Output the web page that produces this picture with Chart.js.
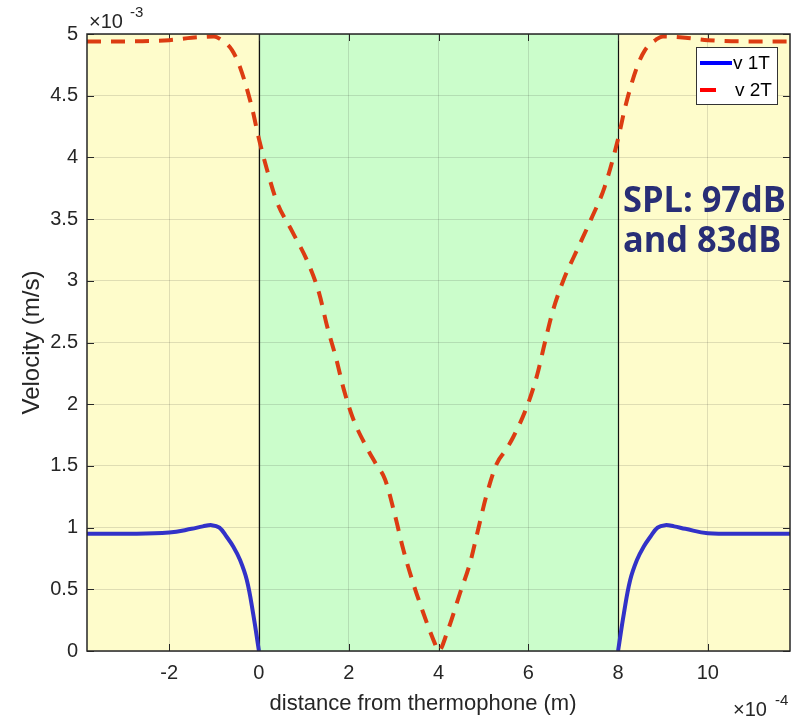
<!DOCTYPE html>
<html>
<head>
<meta charset="utf-8">
<script src="https://cdn.jsdelivr.net/npm/chart.js@4/dist/chart.umd.min.js"></script>
<style>
  body { margin: 0; background: #fff; }
  #wrap { width: 804px; height: 718px; }
</style>
</head>
<body>
<div id="wrap"><canvas id="c" width="804" height="718"></canvas></div>
<script>
// values in units of 1e-4 m (x) and 1e-3 m/s (y)
const redX = [-3.83, -3, -2, -1.5, -1, -0.87, -0.6, -0.42, -0.16, 0, 0.18, 0.4, 0.74, 1.09, 1.34, 1.52, 1.72, 1.89, 2.1, 2.4, 2.6, 2.81, 3.03, 3.21, 3.41, 3.65, 3.92, 4.0,
  4.21, 4.48, 4.7, 4.88, 5.06, 5.3, 5.5, 5.66, 5.97, 6.2, 6.37, 6.55, 6.8, 7.1, 7.4, 7.7, 8.0, 8.16, 8.42, 8.6, 8.87, 9.0, 9.5, 10, 11, 11.83];
const redY = [4.94, 4.94, 4.95, 4.97, 4.98, 4.96, 4.87, 4.73, 4.41, 4.15, 3.90, 3.64, 3.40, 3.15, 2.90, 2.63, 2.37, 2.12, 1.88, 1.65, 1.52, 1.39, 1.10, 0.83, 0.58, 0.32, 0.06, 0,
  0.17, 0.47, 0.71, 0.98, 1.25, 1.52, 1.63, 1.73, 1.98, 2.24, 2.50, 2.76, 3.02, 3.26, 3.50, 3.76, 4.15, 4.41, 4.73, 4.87, 4.96, 4.98, 4.97, 4.95, 4.94, 4.94];

const blueX = [-3.83, -3, -2, -1.5, -1.25, -1.05, -0.88, -0.72, -0.57, -0.42, -0.27, -0.13, 0, 4,
  8, 8.13, 8.27, 8.42, 8.57, 8.72, 8.88, 9.05, 9.25, 9.5, 10, 11, 11.83];
const blueY = [0.95, 0.95, 0.96, 0.99, 1.01, 1.02, 1.0, 0.926, 0.845, 0.737, 0.575, 0.305, 0, null,
  0, 0.305, 0.575, 0.737, 0.845, 0.926, 1.0, 1.02, 1.01, 0.99, 0.955, 0.95, 0.95];

const xTicks = [-2, 0, 2, 4, 6, 8, 10];
const yTicks = [0, 0.5, 1, 1.5, 2, 2.5, 3, 3.5, 4, 4.5, 5];
const seriesNames = ['v 1T', 'v 2T'];
const legendColors = ['#0000ff', '#ff0000'];
const xRange = [-3.83, 11.83];
const greenZone = [0, 8];
const note = ['SPL: 97dB', 'and 83dB'];
const xTitle = 'distance from thermophone (m)';

const axisColor = '#262626';
const FAMILY = 'Liberation Sans, Arial, sans-serif';
const tickFont = { family: FAMILY, size: 20 };

const toPts = (xs, ys) => xs.map((x, i) => ({ x: x, y: ys[i] }));

const decor = {
  id: 'decor',
  beforeDraw(chart) {
    const { ctx, chartArea: a, scales: { x } } = chart;
    ctx.save();
    ctx.fillStyle = '#fefccb';
    ctx.fillRect(a.left, a.top, a.right - a.left, a.bottom - a.top);
    const g0 = x.getPixelForValue(greenZone[0]);
    const g1 = x.getPixelForValue(greenZone[1]);
    ctx.fillStyle = '#cbfdcb';
    ctx.fillRect(g0, a.top, g1 - g0, a.bottom - a.top);
    ctx.restore();
  },
  beforeDatasetsDraw(chart) {
    const { ctx, chartArea: a, scales: { x, y } } = chart;
    ctx.save();
    ctx.strokeStyle = '#111';
    ctx.lineWidth = 1.2;
    greenZone.forEach(v => {
      const px = Math.round(x.getPixelForValue(v)) + 0.5;
      ctx.beginPath();
      ctx.moveTo(px, a.top);
      ctx.lineTo(px, a.bottom);
      ctx.stroke();
    });
    // inward tick marks, all four sides
    ctx.strokeStyle = axisColor;
    ctx.lineWidth = 1;
    ctx.beginPath();
    xTicks.forEach(v => {
      const px = Math.round(x.getPixelForValue(v)) + 0.5;
      ctx.moveTo(px, a.bottom); ctx.lineTo(px, a.bottom - 7);
      ctx.moveTo(px, a.top); ctx.lineTo(px, a.top + 7);
    });
    yTicks.forEach(v => {
      const py = Math.round(y.getPixelForValue(v)) + 0.5;
      ctx.moveTo(a.left, py); ctx.lineTo(a.left + 7, py);
      ctx.moveTo(a.right, py); ctx.lineTo(a.right - 7, py);
    });
    ctx.stroke();
    ctx.restore();
  },
  afterDraw(chart) {
    const { ctx, chartArea: a } = chart;
    ctx.save();
    // axes box
    ctx.strokeStyle = axisColor;
    ctx.lineWidth = 1.5;
    ctx.strokeRect(a.left, a.top, a.right - a.left, a.bottom - a.top);

    // x axis title
    ctx.fillStyle = axisColor;
    ctx.textAlign = 'center';
    ctx.textBaseline = 'alphabetic';
    ctx.font = '22px ' + FAMILY;
    ctx.fillText(xTitle, 423, 710);

    // exponent labels
    ctx.textAlign = 'left';
    ctx.font = '20px ' + FAMILY;
    ctx.fillText('\u00d710', 89, 28);
    ctx.font = '15px ' + FAMILY;
    ctx.fillText('-3', 130, 17);
    ctx.font = '20px ' + FAMILY;
    ctx.fillText('\u00d710', 733, 716);
    ctx.font = '15px ' + FAMILY;
    ctx.fillText('-4', 775, 705);

    // legend
    const lx = 696, ly = 47, lw = 81, lh = 57;
    ctx.fillStyle = '#fff';
    ctx.fillRect(lx, ly, lw, lh);
    ctx.strokeStyle = '#333';
    ctx.lineWidth = 1;
    ctx.strokeRect(lx + 0.5, ly + 0.5, lw, lh);
    ctx.font = '19px ' + FAMILY;
    ctx.textBaseline = 'middle';
    ctx.lineWidth = 4;
    seriesNames.forEach((name, i) => {
      const cy = ly + 16 + i * 27;
      ctx.strokeStyle = legendColors[i];
      ctx.beginPath();
      ctx.moveTo(lx + 4, cy);
      ctx.lineTo(i === 0 ? lx + 36 : lx + 20, cy);
      ctx.stroke();
      ctx.fillStyle = '#000';
      ctx.fillText(name, i === 0 ? lx + 37 : lx + 39, cy + 1);
    });

    // SPL annotation, fitted to the reference box
    ctx.fillStyle = '#282e76';
    ctx.textBaseline = 'alphabetic';
    let size = 30;
    const fam = '"Open Sans", sans-serif';
    ctx.font = 'bold ' + size + 'px ' + fam;
    size = size * 163 / ctx.measureText(note[0]).width;
    ctx.font = 'bold ' + size.toFixed(1) + 'px ' + fam;
    const sy = 26 / (0.714 * size);
    [212, 252].forEach((base, i) => {
      ctx.save();
      ctx.translate(623, base);
      ctx.scale(1, sy);
      ctx.fillText(note[i], 0, 0);
      ctx.restore();
    });
    ctx.restore();
  }
};

new Chart(document.getElementById('c'), {
  type: 'line',
  data: {
    datasets: [
      {
        label: seriesNames[0],
        data: toPts(blueX, blueY),
        borderColor: '#3232c8',
        borderWidth: 4,
        pointRadius: 0,
        tension: 0.4,
        spanGaps: false
      },
      {
        label: seriesNames[1],
        data: toPts(redX, redY),
        borderColor: '#dc3c12',
        borderWidth: 4,
        borderDash: [14, 10],
        pointRadius: 0,
        cubicInterpolationMode: 'monotone'
      }
    ]
  },
  options: {
    responsive: false,
    animation: false,
    layout: { padding: { top: 34, right: 14, left: 0, bottom: 0 } },
    plugins: { legend: { display: false }, tooltip: { enabled: false } },
    scales: {
      x: {
        type: 'linear',
        min: xRange[0],
        max: xRange[1],
        afterBuildTicks: s => { s.ticks = xTicks.map(v => ({ value: v })); },
        afterFit: s => { s.height = 67; },
        grid: { color: 'rgba(38,38,38,0.14)', drawTicks: false, tickLength: 0 },
        border: { display: false },
        ticks: { font: tickFont, color: axisColor, padding: 10, maxRotation: 0, callback: v => String(v) },
        title: { display: false }
      },
      y: {
        min: 0,
        max: 5,
        afterBuildTicks: s => { s.ticks = yTicks.map(v => ({ value: v })); },
        afterFit: s => { s.width = 87; },
        grid: { color: 'rgba(38,38,38,0.14)', drawTicks: false, tickLength: 0 },
        border: { display: false },
        ticks: { font: tickFont, color: axisColor, padding: 9, callback: v => String(v) },
        title: { display: true, text: 'Velocity (m/s)', font: { family: FAMILY, size: 24 }, color: axisColor, padding: { top: 18, bottom: 0 } }
      }
    }
  },
  plugins: [decor]
});
</script>
</body>
</html>
